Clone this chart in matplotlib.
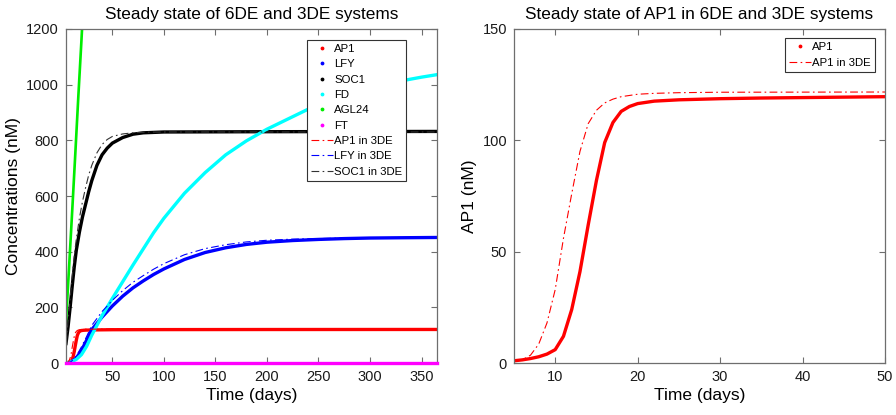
import matplotlib.pyplot as plt
from matplotlib.lines import Line2D

plt.rcParams['font.family'] = ['Liberation Sans', 'DejaVu Sans']

# ------------------------------------------------------------------ data
# 6DE system
t_ap1 = [5, 6, 7, 8, 9, 10, 11, 12, 13, 14, 15, 16, 17, 18, 19, 20, 22, 25,
         30, 35, 40, 45, 50, 100, 200, 365]
ap1 = [1.0, 1.4, 2.0, 2.8, 4.0, 6.0, 12, 24, 41, 62, 82, 99, 108, 113, 115.2,
       116.5, 117.6, 118.2, 118.7, 119, 119.2, 119.4, 119.6, 120, 120.3, 120.5]

t_lfy = [5, 10, 15, 20, 25, 30, 40, 50, 60, 70, 80, 90, 100, 120, 140, 160,
         180, 200, 225, 250, 275, 300, 330, 365]
lfy = [0, 3, 18, 45, 82, 120, 165, 205, 240, 270, 295, 318, 338, 372, 397,
       414, 426, 434, 440, 444, 447, 449, 450, 451]

t_soc1 = [5, 7, 9, 11, 13, 15, 18, 21, 24, 27, 30, 35, 40, 45, 50, 60, 70,
          80, 100, 200, 365]
soc1 = [70, 130, 200, 275, 345, 405, 470, 525, 570, 615, 655, 710, 748, 772,
        790, 810, 822, 827, 830, 831, 832]

t_fd = [5, 10, 15, 20, 25, 30, 35, 40, 50, 60, 70, 80, 90, 100, 120, 140,
        160, 180, 200, 225, 250, 275, 300, 325, 350, 365]
fd = [0, 4, 13, 30, 60, 100, 135, 170, 232, 292, 352, 410, 468, 520, 610,
      684, 748, 798, 840, 885, 930, 965, 990, 1010, 1027, 1036]

t_agl24 = [5, 8, 11, 14, 17, 20, 23]
agl24 = [150, 345, 545, 750, 960, 1160, 1370]

t_ft = [5, 50, 100, 200, 300, 365]
ft = [1.5, 1.5, 1.5, 1.5, 1.5, 1.5]

# 3DE system
t_ap1_3 = [5, 6, 7, 8, 9, 10, 11, 12, 13, 14, 15, 16, 17, 18, 20, 22, 25,
           30, 50, 365]
ap1_3 = [0.8, 1.4, 3.5, 8.5, 18, 33, 56, 76, 95, 107.5, 113.5, 116.8, 118.5,
         119.6, 120.7, 121.1, 121.4, 121.6, 121.7, 121.7]

t_lfy_3 = [5, 10, 15, 20, 25, 30, 40, 50, 60, 70, 80, 90, 100, 120, 140,
           160, 180, 200, 225, 250, 275, 300, 330, 365]
lfy_3 = [0, 5, 25, 58, 95, 135, 185, 225, 260, 290, 314, 337, 357, 389, 411,
         425, 435, 441, 445, 447, 449, 450, 451, 451]

t_soc1_3 = [5, 7, 9, 11, 13, 15, 18, 21, 24, 27, 30, 35, 40, 45, 50, 60, 70,
            80, 100, 200, 365]
soc1_3 = [70, 150, 230, 310, 385, 445, 520, 580, 630, 675, 710, 755, 785,
          803, 814, 823, 827, 829, 830, 830, 830]

names_6de = ["AP1", "LFY", "SOC1", "FD", "AGL24", "FT"]
names_3de = ["AP1 in 3DE", "LFY in 3DE", "SOC1 in 3DE"]

#===========================================================================#
# styling helpers
#---------------------------------------------------------------------------#

DASHDOT = (0, (7, 3, 1.5, 3))
AXCOL = "#6e6e6e"
RED, BLUE, BLACK = "#ff0000", "#0000ff", "#000000"
CYAN, GREEN, MAGENTA = "#00ffff", "#00ee00", "#ff00ff"
GREY3 = "#333333"


def style_axes(ax):
    for sp in ax.spines.values():
        sp.set_color(AXCOL)
        sp.set_linewidth(0.9)
    ax.tick_params(direction="in", top=True, right=True, length=4,
                   width=0.8, color=AXCOL, labelsize=10.5, labelcolor="#1a1a1a",
                   pad=5)


def dot_handle(c):
    return Line2D([], [], color=c, marker=".", ls="none", markersize=3.5)


def dd_handle(c):
    return Line2D([], [], color=c, ls=DASHDOT, lw=0.8)


LEG_KW = dict(fontsize=8.2, frameon=True, fancybox=False, framealpha=1,
              edgecolor=GREY3, handlelength=1.9, handletextpad=0.15,
              labelspacing=0.47, borderpad=0.35, borderaxespad=0)

fig = plt.figure(figsize=(8.96, 4.15), dpi=100)
ax1 = fig.add_axes([66 / 896, 52 / 415, 371 / 896, 334 / 415])
ax2 = fig.add_axes([514 / 896, 52 / 415, 371 / 896, 334 / 415])

# ------------------------- left panel
lw6 = 2.4
ax1.plot(t_ap1, ap1, color=RED, lw=lw6)
ax1.plot(t_lfy, lfy, color=BLUE, lw=lw6)
ax1.plot(t_soc1, soc1, color=BLACK, lw=lw6)
ax1.plot(t_fd, fd, color=CYAN, lw=lw6)
ax1.plot(t_agl24, agl24, color=GREEN, lw=lw6 * 0.8)
ax1.plot(t_ft, ft, color=MAGENTA, lw=lw6, clip_on=False, zorder=4)
ax1.plot(t_ap1_3, ap1_3, color=RED, lw=0.8, ls=DASHDOT)
ax1.plot(t_lfy_3, lfy_3, color=BLUE, lw=0.8, ls=DASHDOT)
ax1.plot(t_soc1_3, soc1_3, color=GREY3, lw=0.8, ls=DASHDOT)

ax1.set_xlim(5, 365)
ax1.set_ylim(0, 1200)
ax1.set_xticks([50, 100, 150, 200, 250, 300, 350])
ax1.set_yticks(range(0, 1201, 200))
ax1.set_xlabel("Time (days)", fontsize=12.5, labelpad=3)
ax1.set_ylabel("Concentrations (nM)", fontsize=12.5, labelpad=4)
ax1.set_title("Steady state of 6DE and 3DE systems", fontsize=12.4, pad=7)
style_axes(ax1)

handles = [dot_handle(c) for c in [RED, BLUE, BLACK, CYAN, GREEN, MAGENTA]]
handles += [dd_handle(c) for c in [RED, BLUE, GREY3]]
leg = ax1.legend(handles, names_6de + names_3de, loc="upper left",
                 bbox_to_anchor=(0.6496, 0.967), **LEG_KW)
leg.get_frame().set_linewidth(0.8)

# ------------------------- right panel
ax2.plot(t_ap1, ap1, color=RED, lw=2.4)
ax2.plot(t_ap1_3, ap1_3, color=RED, lw=0.8, ls=DASHDOT)
ax2.set_xlim(5, 50)
ax2.set_ylim(0, 150)
ax2.set_xticks([10, 20, 30, 40, 50])
ax2.set_yticks([0, 50, 100, 150])
ax2.set_xlabel("Time (days)", fontsize=12.5, labelpad=3)
ax2.set_ylabel("AP1 (nM)", fontsize=12.5, labelpad=4)
ax2.set_title("Steady state of AP1 in 6DE and 3DE systems", fontsize=12.4,
              pad=7)
style_axes(ax2)

leg2 = ax2.legend([dot_handle(RED), dd_handle(RED)], ["AP1", "AP1 in 3DE"],
                  loc="upper right", bbox_to_anchor=(0.973, 0.972), **LEG_KW)
leg2.get_frame().set_linewidth(0.8)

fig.savefig("out.png", dpi=100, facecolor="white")
